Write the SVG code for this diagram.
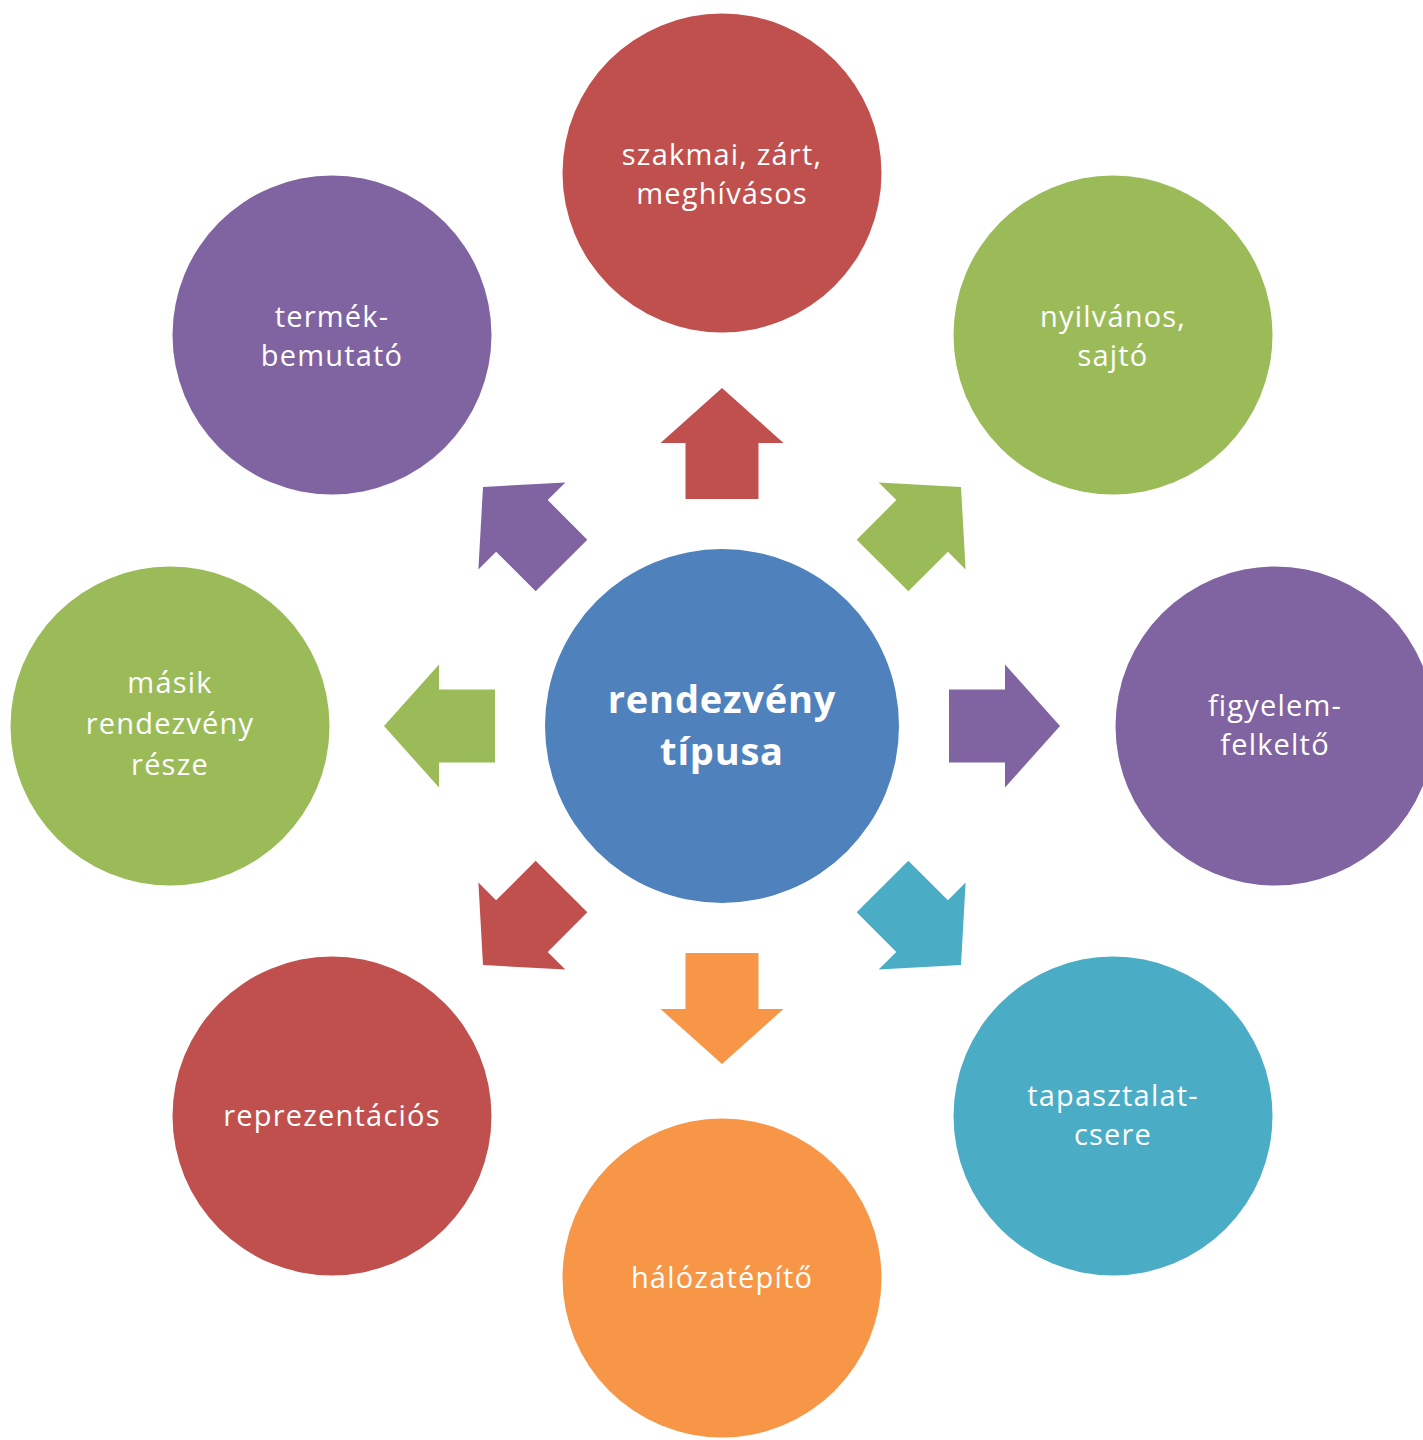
<svg xmlns="http://www.w3.org/2000/svg" width="1423" height="1440" viewBox="0 0 1423 1440">
<defs>
<style>
.t{font-family:"Open Sans","Noto Sans","Liberation Sans",sans-serif;font-size:29px;letter-spacing:1.2px;fill:#fff;text-anchor:middle}
.c{font-family:"Open Sans","Noto Sans","Liberation Sans",sans-serif;font-size:38px;letter-spacing:0.8px;font-weight:bold;fill:#fff;text-anchor:middle}
.red{fill:#C0504D}.green{fill:#9BBB59}.purple{fill:#8064A2}.cyan{fill:#4BACC6}.orange{fill:#F79646}.blue{fill:#4F81BD}
</style>
<path id="arr" d="M-36.5,-227 L-36.5,-283 L-61.5,-283 L0,-338 L61.5,-283 L36.5,-283 L36.5,-227 Z"/>
</defs>
<rect width="1423" height="1440" fill="#fff"/>
<g id="connectors" transform="translate(722,726)">
<use href="#arr" class="red"/>
<use href="#arr" class="green" transform="rotate(45)"/>
<use href="#arr" class="purple" transform="rotate(90)"/>
<use href="#arr" class="cyan" transform="rotate(135)"/>
<use href="#arr" class="orange" transform="rotate(180)"/>
<use href="#arr" class="red" transform="rotate(225)"/>
<use href="#arr" class="green" transform="rotate(270)"/>
<use href="#arr" class="purple" transform="rotate(315)"/>
</g>
<g id="center"><circle cx="722" cy="726" r="177" class="blue"/><text class="c" x="722" y="713">rendezvény</text><text class="c" x="722" y="765">típusa</text></g>
<g id="n-top"><circle cx="722" cy="173" r="159.5" class="red"/><text class="t" x="722" y="165">szakmai, zárt,</text><text class="t" x="722" y="204">meghívásos</text></g>
<g id="n-topright"><circle cx="1113" cy="335" r="159.5" class="green"/><text class="t" x="1113" y="327">nyilvános,</text><text class="t" x="1113" y="366">sajtó</text></g>
<g id="n-right"><circle cx="1275" cy="726" r="159.5" class="purple"/><text class="t" x="1275" y="716">figyelem-</text><text class="t" x="1275" y="755">felkeltő</text></g>
<g id="n-bottomright"><circle cx="1113" cy="1116" r="159.5" class="cyan"/><text class="t" x="1113" y="1106">tapasztalat-</text><text class="t" x="1113" y="1145">csere</text></g>
<g id="n-bottom"><circle cx="722" cy="1278" r="159.5" class="orange"/><text class="t" x="722" y="1288">hálózatépítő</text></g>
<g id="n-bottomleft"><circle cx="332" cy="1116" r="159.5" class="red"/><text class="t" x="332" y="1126">reprezentációs</text></g>
<g id="n-left"><circle cx="170" cy="726" r="159.5" class="green"/><text class="t" x="170" y="693">másik</text><text class="t" x="170" y="734">rendezvény</text><text class="t" x="170" y="775">része</text></g>
<g id="n-topleft"><circle cx="332" cy="335" r="159.5" class="purple"/><text class="t" x="332" y="327">termék-</text><text class="t" x="332" y="366">bemutató</text></g>
</svg>
